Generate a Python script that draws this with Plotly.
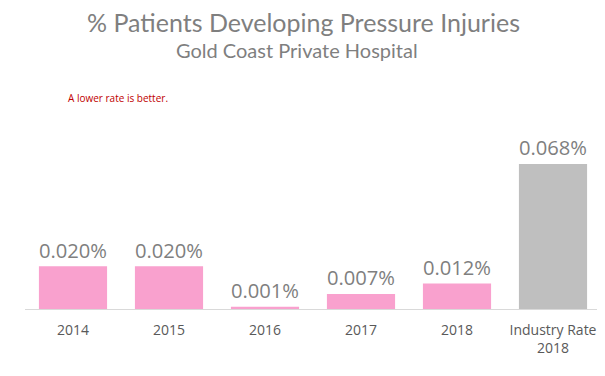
import plotly.graph_objects as go

categories = ["2014", "2015", "2016", "2017", "2018", "Industry Rate<br>2018"]
values = [0.020, 0.020, 0.001, 0.007, 0.012, 0.068]
labels = ["0.020%", "0.020%", "0.001%", "0.007%", "0.012%", "0.068%"]
colors = ["#F9A1CE"] * 5 + ["#BFBFBF"]

# page body has an 8px default margin; compensate
OFF = 8
W, H = 605 - OFF, 376 - OFF
L, R, T, B = 25 - OFF, 4, 100 - OFF, 67
pw, ph = W - L - R, H - T - B


def px_x(x):
    return (x - OFF - L) / pw


def px_y(y):
    return (H - B - (y - OFF)) / ph


fig = go.Figure(go.Bar(
    x=categories, y=values, text=labels, textposition="outside",
    marker=dict(color=colors, line=dict(width=0)),
    textfont=dict(size=21, color="#7F7F7F", family="Open Sans"),
    cliponaxis=False,
))

fig.update_layout(
    width=W, height=H,
    margin=dict(l=L, r=R, t=T, b=B, autoexpand=False),
    paper_bgcolor="white", plot_bgcolor="white",
    bargap=0.29,
    showlegend=False,
    xaxis=dict(showline=True, linecolor="#D9D9D9", linewidth=1, ticks="",
               automargin=False, ticklabelstandoff=8,
               tickfont=dict(size=14, color="#595959", family="Open Sans")),
    yaxis=dict(visible=False, range=[0, 0.098], automargin=False),
    annotations=[
        dict(text="% Patients Developing Pressure Injuries", x=px_x(303), y=px_y(22),
             xref="paper", yref="paper", showarrow=False, yanchor="middle",
             font=dict(size=25, color="#7F7F7F", family="Lato")),
        dict(text="Gold Coast Private Hospital", x=px_x(297), y=px_y(50),
             xref="paper", yref="paper", showarrow=False, yanchor="middle",
             font=dict(size=20, color="#7F7F7F", family="Lato")),
        dict(text="A lower rate is better.", x=px_x(66), y=px_y(98),
             xref="paper", yref="paper", showarrow=False, xanchor="left", yanchor="middle",
             font=dict(size=10, color="#C00000", family="Open Sans")),
    ],
)

fig.write_html("out.html")
